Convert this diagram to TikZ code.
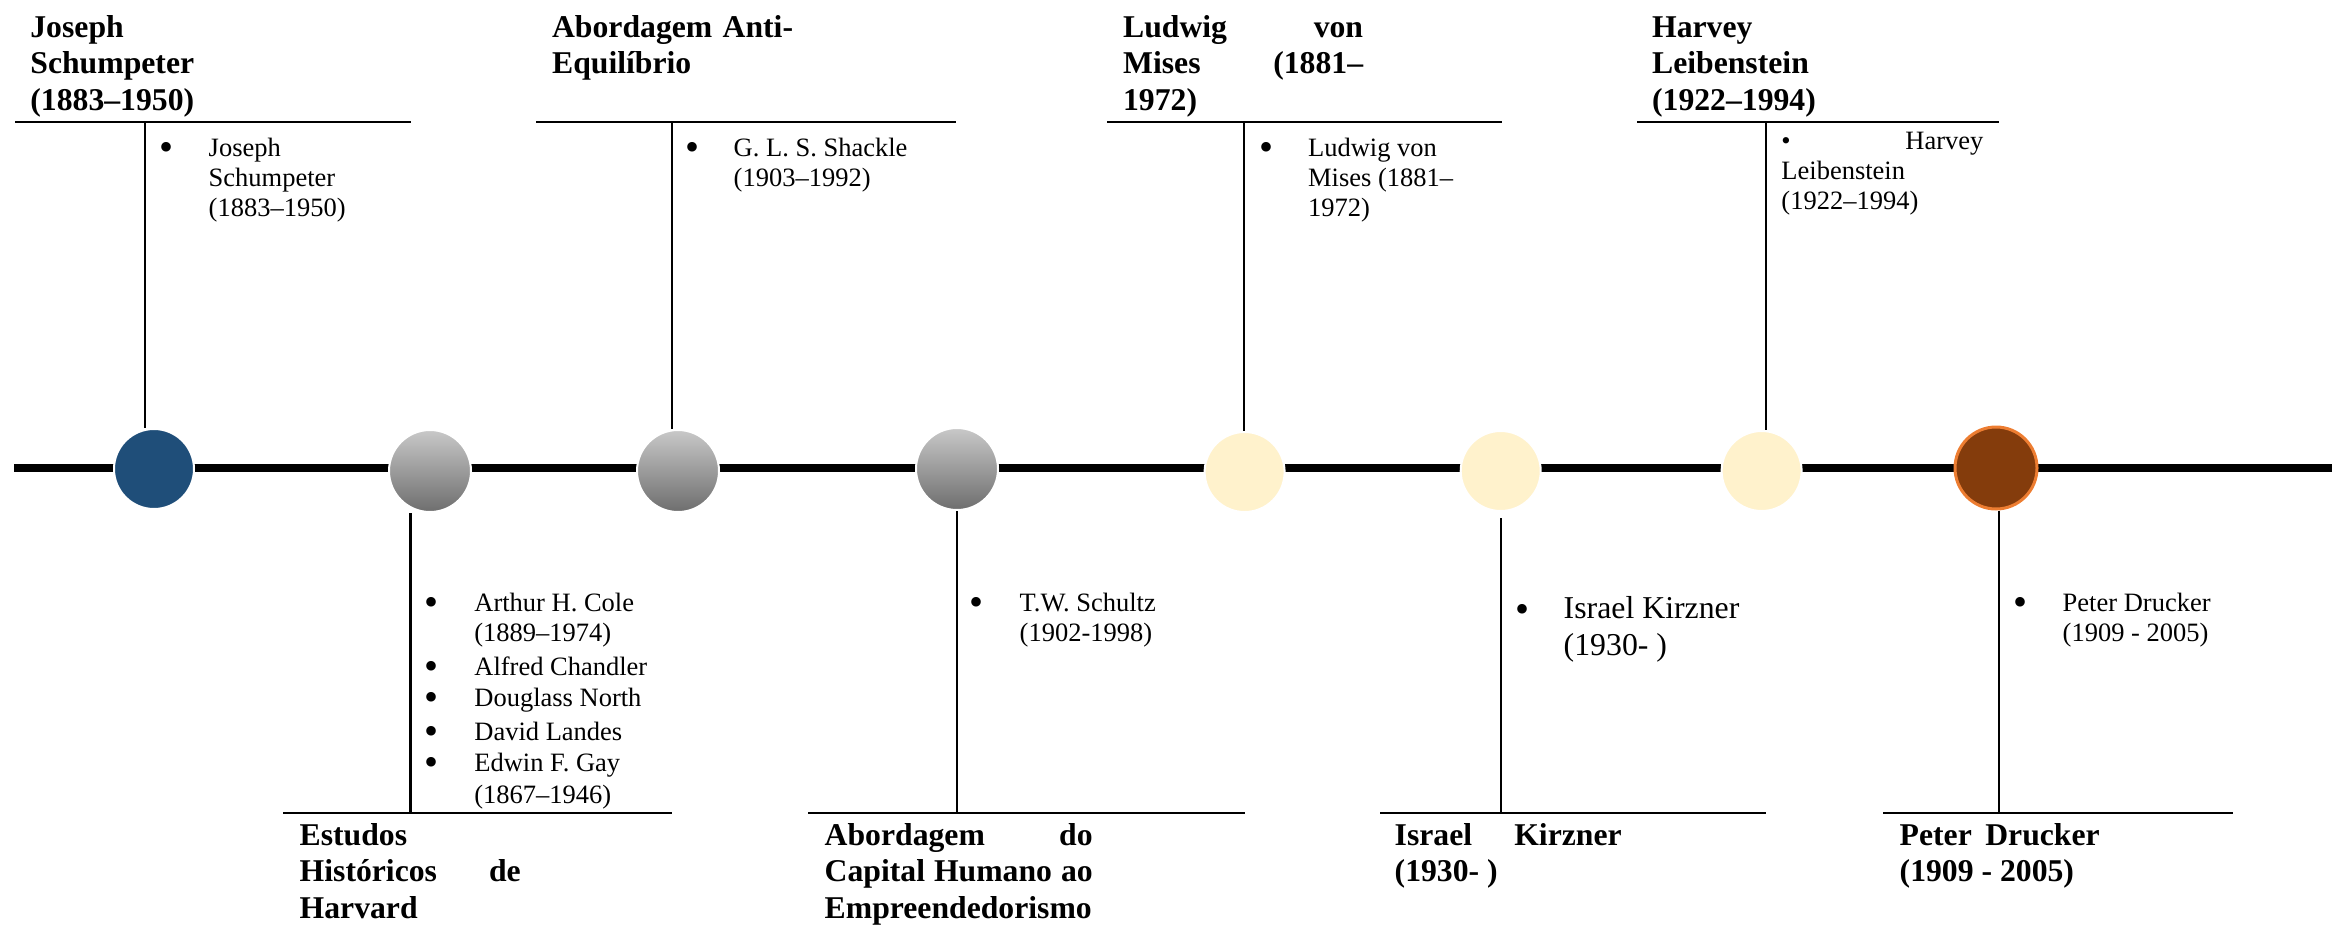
\documentclass[tikz,border=0pt]{standalone}
\usepackage{fontspec}
\setmainfont{Liberation Serif}
\definecolor{evblue}{HTML}{1F4E79}
\definecolor{evgreyT}{HTML}{C8C8C8}
\definecolor{evgreyB}{HTML}{6E6E6E}
\definecolor{evcream}{HTML}{FFF2CC}
\definecolor{evbrown}{HTML}{843C0C}
\definecolor{evorange}{HTML}{ED7D31}
% stacked lines whose first baseline is the node's base
\newcommand\rows[1]{\vtop{#1}}
% list lines with exact baseline gaps
\newcommand\listrows[1]{\vtop{\baselineskip=0pt\lineskiplimit=-\maxdimen #1}}
\newcommand\gap[1]{\vskip#1\relax}
\newcommand\bul{\makebox[0pt]{\raisebox{-2pt}{\fontsize{20pt}{20pt}\selectfont\textbullet}}\hspace{21.5pt}}
\newcommand\nobul{\hspace{21.5pt}}
\begin{document}
\begin{tikzpicture}[x=0.5pt,y=-0.5pt,
  title/.style={anchor=base west, inner sep=0pt, font=\bfseries\fontsize{15.85pt}{18.3pt}\selectfont},
  item/.style={anchor=base west, inner sep=0pt, font=\fontsize{13.25pt}{15pt}\selectfont},
  bigitem/.style={anchor=base west, inner sep=0pt, font=\fontsize{15.9pt}{18.35pt}\selectfont},
  dot/.style={anchor=base, inner sep=0pt, font=\fontsize{20pt}{20pt}\selectfont},
  bracket/.style={line width=1.35pt},
  stem/.style={line width=1.1pt},
  axis/.style={line width=4.4pt},
  event/.style={circle, minimum size=40pt, inner sep=0pt, draw=white, line width=1pt},
  greyev/.style={event, top color=evgreyT, bottom color=evgreyB, minimum size=41pt}]
\useasboundingbox (0,0) rectangle (2332,926);

% time axis
\coordinate (axL) at (14,468);
\coordinate (axR) at (2332,468);
\draw[axis] (axL) -- (axR);

% events on the axis
\node[event, fill=evblue] (c1) at (154,469) {};
\node[greyev] (c2) at (430,471) {};
\node[greyev] (c3) at (678,471) {};
\node[greyev] (c4) at (957,469) {};
\node[event, fill=evcream] (c5) at (1244.6,472) {};
\node[event, fill=evcream] (c6) at (1500.7,471) {};
\node[event, fill=evcream] (c7) at (1761.6,471) {};
\node[event, fill=evbrown, draw=evorange, line width=1.5pt, minimum size=41pt] (c8) at (1996,468) {};

% ---------- upper labels ----------
\coordinate (sL) at (15,122);   \coordinate (sR) at (411,122);  \coordinate (sS) at (145,122);
\coordinate (aL) at (536,122);  \coordinate (aR) at (956,122);  \coordinate (aS) at (671.7,122);
\coordinate (mL) at (1107,122); \coordinate (mR) at (1502,122); \coordinate (mS) at (1244,122);
\coordinate (lL) at (1637,122); \coordinate (lR) at (1999,122); \coordinate (lS) at (1766,122);
\draw[bracket] (sL) -- (sR);
\draw[bracket] (aL) -- (aR);
\draw[bracket] (mL) -- (mR);
\draw[bracket] (lL) -- (lR);
\draw[stem] (sS) -- (sS |- c1.north);
\draw[stem] (aS) -- (aS |- c3.north);
\draw[stem] (mS) -- (mS |- c5.north);
\draw[stem] (lS) -- (lS |- c7.north);

\node[title] (tS) at (30,37.3) {\rows{\hbox{Joseph}\hbox{Schumpeter}\hbox{(1883--1950)}}};
\node[title] (tA) at (551.7,37.3) {\rows{\hbox to 120.5pt{Abordagem Anti-}\hbox{Equilíbrio}}};
\node[title] (tM) at (1122.7,37.3) {\rows{\hbox to 120pt{Ludwig von}\hbox to 120pt{Mises (1881--}\hbox{1972)}}};
\node[title] (tL) at (1651.7,37.3) {\rows{\hbox{Harvey}\hbox{Leibenstein}\hbox{(1922--1994)}}};

\node[dot] (bS) at (166.7,160) {\textbullet};
\node[item] (iS) at (208.3,156) {\rows{\hbox{Joseph}\hbox{Schumpeter}\hbox{(1883--1950)}}};
\node[dot] (bA) at (692.7,160) {\textbullet};
\node[item] (iA) at (733.3,156) {\rows{\hbox{G. L. S. Shackle}\hbox{(1903--1992)}}};
\node[dot] (bM) at (1266.7,160) {\textbullet};
\node[item] (iM) at (1307.7,156) {\rows{\hbox{Ludwig von}\hbox{Mises (1881--}\hbox{1972)}}};
\node[item] (iL) at (1781,149.3) {\rows{\hbox to 101pt{\textbullet\ Harvey}\hbox{Leibenstein}\hbox{(1922--1994)}}};

% ---------- lower labels ----------
\coordinate (hL) at (283,813);  \coordinate (hR) at (671.7,813); \coordinate (hS) at (410.5,813);
\coordinate (kL) at (808,813);  \coordinate (kR) at (1245,813);  \coordinate (kS) at (956.7,813);
\coordinate (zL) at (1380,813); \coordinate (zR) at (1766,813);  \coordinate (zS) at (1501,813);
\coordinate (dL) at (1883,813); \coordinate (dR) at (2233,813);  \coordinate (dS) at (1999.3,813);
\draw[bracket] (hL) -- (hR);
\draw[bracket] (kL) -- (kR);
\draw[bracket] (zL) -- (zR);
\draw[bracket] (dL) -- (dR);
\draw[stem] (hS |- c2.south) -- (hS);
\draw[stem] (kS |- c4.south) -- (kS);
\draw[stem] ([yshift=-3pt]zS |- c6.south) -- (zS);
\draw[stem] (dS |- c8.south) -- (dS);

\node[title] (tH) at (299.3,845) {\rows{\hbox{Estudos}\hbox to 110.5pt{Históricos de}\hbox{Harvard}}};
\node[title] (tC) at (824.3,845) {\rows{\hbox to 134pt{Abordagem do}\hbox to 134pt{Capital Humano ao}\hbox{Empreendedorismo}}};
\node[title] (tK) at (1394.3,845) {\rows{\hbox to 113.5pt{Israel Kirzner}\hbox{(1930- )}}};
\node[title] (tD) at (1899.3,845) {\rows{\hbox to 100pt{Peter Drucker}\hbox{(1909 - 2005)}}};

% bulleted list of the Harvard group, one block
\node[item] (iH) at (431,611.7) {\listrows{%
  \hbox{\bul Arthur H. Cole}\gap{15pt}%
  \hbox{\nobul (1889--1974)}\gap{16.65pt}%
  \hbox{\bul Alfred Chandler}\gap{15.85pt}%
  \hbox{\bul Douglass North}\gap{16.65pt}%
  \hbox{\bul David Landes}\gap{15.85pt}%
  \hbox{\bul Edwin F. Gay}\gap{15.8pt}%
  \hbox{\nobul (1867--1946)}}};

\node[dot] (bC) at (976.7,615.7) {\textbullet};
\node[item] (iC) at (1019.3,611.7) {\rows{\hbox{T.W. Schultz}\hbox{(1902-1998)}}};
\node[dot] (bK) at (1522.3,622.3) {\textbullet};
\node[bigitem] (iK) at (1563.3,618.3) {\rows{\hbox{Israel Kirzner}\hbox{(1930- )}}};
\node[dot] (bD) at (2020,615.7) {\textbullet};
\node[item] (iD) at (2062.3,611.7) {\rows{\hbox{Peter Drucker}\hbox{(1909 - 2005)}}};
\end{tikzpicture}
\end{document}
